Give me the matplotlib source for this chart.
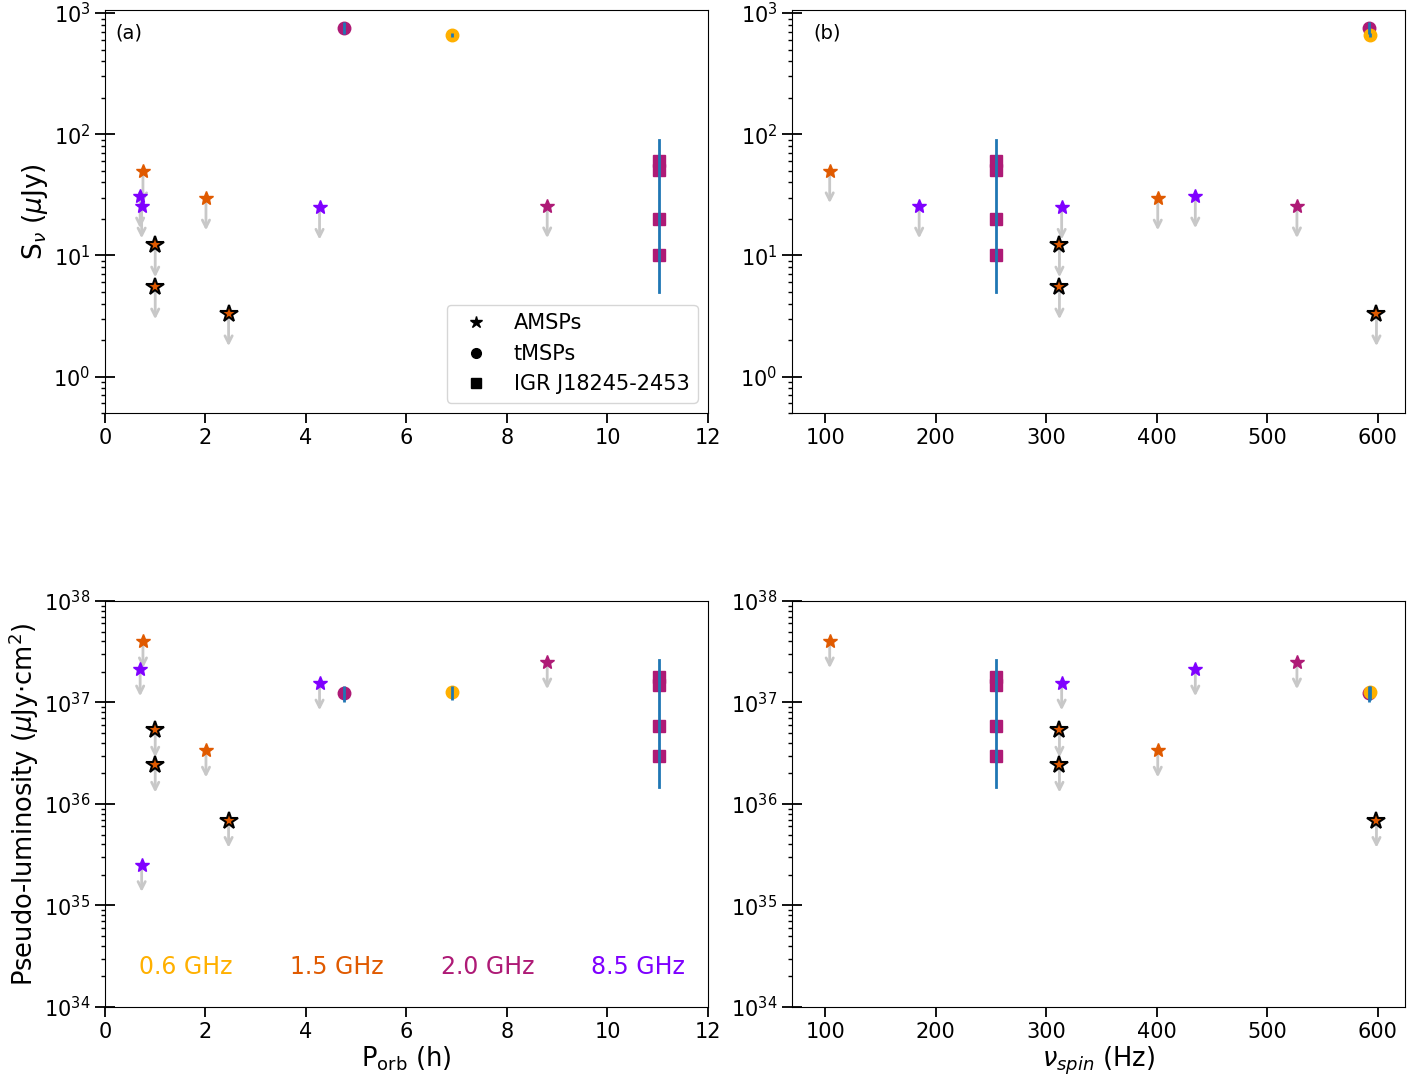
import numpy as np
import matplotlib
matplotlib.use('Agg')
import matplotlib.pyplot as plt
from matplotlib.lines import Line2D

# ── Data ────────────────────────────────────────────────────────────────────
band_colors = {'0.6': '#FFB000', '1.5': '#E05A00', '2.0': '#AE1A76', '8.5': '#7F00FF'}
band_labels = ['0.6 GHz', '1.5 GHz', '2.0 GHz', '8.5 GHz']

# AMSPs (all upper limits)
amsp_porb = [0.756, 0.70, 0.73, 1.0, 1.0, 2.01, 2.46, 4.27, 8.8]
amsp_spin = [104, 435, 185, 312, 312, 401, 599, 314, 527]
amsp_flux = [50, 31, 25.6, 12.2, 5.5, 29.8, 3.3, 25, 25.7]
amsp_lum = [4.03e37, 2.13e37, 2.52e35, 5.32e36, 2.40e36, 3.38e36, 6.87e35, 1.55e37, 2.50e37]
amsp_band = ['1.5', '8.5', '8.5', '1.5', '1.5', '1.5', '1.5', '8.5', '2.0']
amsp_outline = [False, False, False, True, True, False, True, False, False]
amsp_in_lum_spin = [True, True, False, True, True, True, True, True, True]

# tMSPs
tmsp_porb = [4.75, 6.91]
tmsp_spin = [592.4, 592.9]
tmsp_flux = [752, 659]
tmsp_flux_err = [85, 25]
tmsp_lum = [1.23e37, 1.26e37]
tmsp_lum_err = [0.22e37, 0.20e37]
tmsp_band = ['2.0', '0.6']

# IGR J18245-2453
igr_porb = 11.03
igr_spin = 254.3
igr_flux = [60, 51, 20, 10]
igr_lum = [1.77e37, 1.50e37, 5.8e36, 2.94e36]
igr_flux_range = [5, 90]
igr_lum_range = [1.47e36, 2.65e37]
igr_color = '#AE1A76'

arrow_frac = 0.54
arrow_color = '#c8c8c8'
fs = 15

plt.rcParams['font.size'] = fs


def draw_panel(ax, x_amsp, y_amsp, x_tmsp, y_tmsp, y_tmsp_err, x_igr, y_igr, y_igr_range, mask):
    for i in range(len(x_amsp)):
        if not mask[i]:
            continue
        x, y = x_amsp[i], y_amsp[i]
        ax.annotate('', xy=(x, y * arrow_frac), xytext=(x, y),
                    arrowprops=dict(arrowstyle='->', color=arrow_color, lw=2,
                                    mutation_scale=13, shrinkA=0, shrinkB=0),
                    zorder=2)
        c = band_colors[amsp_band[i]]
        if amsp_outline[i]:
            ax.plot(x, y, marker='*', ms=13, mfc=c, mec='black', mew=1.5, ls='none', zorder=4)
        else:
            ax.plot(x, y, marker='*', ms=10, mfc=c, mec=c, ls='none', zorder=4)
    for i in range(len(x_tmsp)):
        c = band_colors[tmsp_band[i]]
        ax.plot(x_tmsp[i], y_tmsp[i], marker='o', ms=9, mfc=c, mec=c, ls='none', zorder=4)
        ax.errorbar(x_tmsp[i], y_tmsp[i], yerr=y_tmsp_err[i], fmt='none',
                    ecolor='#1f77b4', elinewidth=2, zorder=5)
    ax.plot([x_igr] * len(y_igr), y_igr, marker='s', ms=8, mfc=igr_color, mec=igr_color,
            ls='none', zorder=4)
    ax.plot([x_igr, x_igr], y_igr_range, color='#1f77b4', lw=2, zorder=5)


def style_axes(ax):
    ax.set_yscale('log')
    ax.tick_params(axis='y', which='major', direction='inout', length=14, width=1.3, labelsize=fs)
    ax.tick_params(axis='y', which='minor', direction='out', length=3, width=1)
    ax.tick_params(axis='x', which='major', direction='out', length=7, width=1.3, labelsize=fs)


fig = plt.figure(figsize=(14.07, 10.77), dpi=100)
ax_a = fig.add_axes([0.0746, 0.6165, 0.4286, 0.3742])
ax_b = fig.add_axes([0.5630, 0.6165, 0.4357, 0.3742])
ax_c = fig.add_axes([0.0746, 0.0650, 0.4286, 0.3770])
ax_d = fig.add_axes([0.5630, 0.0650, 0.4357, 0.3770])

all_in = [True] * len(amsp_porb)

draw_panel(ax_a, amsp_porb, amsp_flux, tmsp_porb, tmsp_flux, tmsp_flux_err,
           igr_porb, igr_flux, igr_flux_range, all_in)
draw_panel(ax_b, amsp_spin, amsp_flux, tmsp_spin, tmsp_flux, tmsp_flux_err,
           igr_spin, igr_flux, igr_flux_range, all_in)
draw_panel(ax_c, amsp_porb, amsp_lum, tmsp_porb, tmsp_lum, tmsp_lum_err,
           igr_porb, igr_lum, igr_lum_range, all_in)
draw_panel(ax_d, amsp_spin, amsp_lum, tmsp_spin, tmsp_lum, tmsp_lum_err,
           igr_spin, igr_lum, igr_lum_range, amsp_in_lum_spin)

for ax in (ax_a, ax_b, ax_c, ax_d):
    style_axes(ax)

for ax in (ax_a, ax_c):
    ax.set_xlim(0, 12)
    ax.set_xticks([0, 2, 4, 6, 8, 10, 12])
for ax in (ax_b, ax_d):
    ax.set_xlim(70, 625)
    ax.set_xticks([100, 200, 300, 400, 500, 600])

for ax in (ax_a, ax_b):
    ax.set_ylim(0.5, 1060)
for ax in (ax_c, ax_d):
    ax.set_ylim(1e34, 1e38)

ax_a.text(0.017, 0.943, '(a)', transform=ax_a.transAxes, fontsize=14, va='center')
ax_b.text(0.035, 0.943, '(b)', transform=ax_b.transAxes, fontsize=14, va='center')

ax_a.set_ylabel(r'S$_\nu$ ($\mu$Jy)', fontsize=19, labelpad=2)
ax_c.set_ylabel(r'Pseudo-luminosity ($\mu$Jy$\cdot$cm$^2$)', fontsize=18.5, labelpad=2)
ax_c.set_xlabel(r'P$_{\rm orb}$ (h)', fontsize=18.5, labelpad=2)
ax_d.set_xlabel(r'$\nu_{spin}$ (Hz)', fontsize=18.5, labelpad=2)

handles = [Line2D([], [], marker='*', color='black', ls='none', ms=9),
           Line2D([], [], marker='o', color='black', ls='none', ms=7),
           Line2D([], [], marker='s', color='black', ls='none', ms=7)]
ax_a.legend(handles, ['AMSPs', 'tMSPs', 'IGR J18245-2453'], loc='lower right', fontsize=fs)

for i, lab in enumerate(band_labels):
    key = lab.split()[0]
    ax_c.text(0.134 + 0.25 * i, 0.0985, lab, transform=ax_c.transAxes, ha='center',
              va='center', color=band_colors[key], fontsize=17)

fig.savefig('out.png', dpi=100)
